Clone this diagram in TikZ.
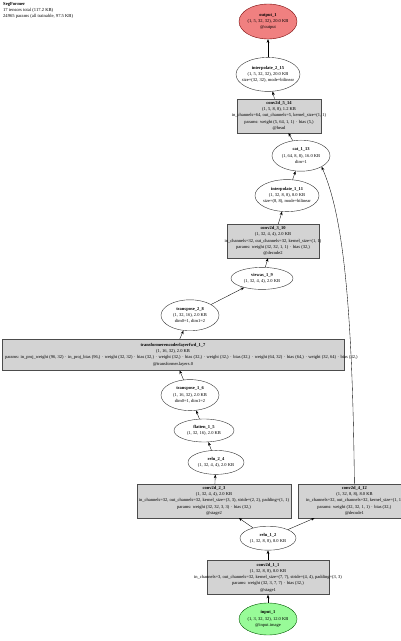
\documentclass[tikz,border=0pt]{standalone}
\usepackage{fontspec}
\setmainfont{Liberation Serif}
\usepackage{xcolor}
\usepackage{tikz}
\usetikzlibrary{arrows.meta,positioning,shapes.geometric}
\definecolor{modfill}{HTML}{D3D3D3}
\definecolor{infill}{HTML}{98FB98}
\definecolor{outfill}{HTML}{F08080}
\newcommand{\gvl}[1]{\makebox[0pt]{#1}}
\tikzset{
  lbl/.style={font={\fontsize{4.5}{6.3}\selectfont}, align=center, inner sep=0pt},
  mod/.style={lbl, rectangle, draw=black!70, fill=modfill, minimum height=34pt},
  fn/.style={lbl, ellipse, draw=black!80, fill=white},
  src/.style={fn, fill=infill, draw=green!35!black},
  sink/.style={fn, fill=outfill, draw=red!45!black},
  flow/.style={-{Stealth[length=3.6pt,width=2.8pt]}, line width=0.35pt},
}

\begin{document}
\begin{tikzpicture}[x=1pt, y=1pt]
  \useasboundingbox (0,0) rectangle (400,641);
  \node[lbl, anchor=north west, align=left, font={\fontsize{4.6}{6}\selectfont}] (title) at (3,639)
    {\textbf{SegFormer}\\17 tensors total (117.2 KB)\\24965 params (all trainable, 97.5 KB)};
  \node[src, minimum width=58pt, minimum height=32pt] (in1) at (268,22)
    {\gvl{\textbf{input\_1}}\\\gvl{(1, 3, 32, 32), 12.0 KB}\\\gvl{@input.image}};
  \node[mod, minimum width=122pt, above=8pt of in1] (c11)
    {\gvl{\textbf{conv2d\_1\_1}}\\\gvl{(1, 32, 8, 8), 8.0 KB}\\
     \gvl{in\_channels=3, out\_channels=32, kernel\_size=(7, 7), stride=(4, 4), padding=(3, 3)}\\
     \gvl{params: weight (32, 3, 7, 7) $\cdot$ bias (32,)}\\\gvl{@stage1}};
  \node[fn, minimum width=56pt, minimum height=24pt, above=10pt of c11] (r12)
    {\gvl{\textbf{relu\_1\_2}}\\\gvl{(1, 32, 8, 8), 8.0 KB}};
  \node[mod, minimum width=154pt, above=8pt of r12, xshift=-54pt] (c23)
    {\gvl{\textbf{conv2d\_2\_3}}\\\gvl{(1, 32, 4, 4), 2.0 KB}\\
     \gvl{in\_channels=32, out\_channels=32, kernel\_size=(3, 3), stride=(2, 2), padding=(1, 1)}\\
     \gvl{params: weight (32, 32, 3, 3) $\cdot$ bias (32,)}\\\gvl{@stage2}};
  \node[mod, minimum width=112pt, right=7pt of c23] (c412)
    {\gvl{\textbf{conv2d\_4\_12}}\\\gvl{(1, 32, 8, 8), 8.0 KB}\\
     \gvl{in\_channels=32, out\_channels=32, kernel\_size=(1, 1)}\\
     \gvl{params: weight (32, 32, 1, 1) $\cdot$ bias (32,)}\\\gvl{@decode1}};
  \node[fn, minimum width=56pt, minimum height=24pt, above=9pt of c23, xshift=2pt] (r24)
    {\gvl{\textbf{relu\_2\_4}}\\\gvl{(1, 32, 4, 4), 2.0 KB}};
  \node[fn, minimum width=60pt, minimum height=23pt, above=8pt of r24, xshift=-12pt] (f15)
    {\gvl{\textbf{flatten\_1\_5}}\\\gvl{(1, 32, 16), 2.0 KB}};
  \node[fn, minimum width=58pt, minimum height=31pt, above=8pt of f15, xshift=-14pt] (t16)
    {\gvl{\textbf{transpose\_1\_6}}\\\gvl{(1, 16, 32), 2.0 KB}\\\gvl{dim0=1, dim1=2}};
  \node[mod, minimum width=342pt, minimum height=31pt, above=9pt of t16, xshift=-17pt] (tf17)
    {\gvl{\textbf{transformerencoderlayerfwd\_1\_7}}\\\gvl{(1, 16, 32), 2.0 KB}\\
     \makebox[0pt][l]{\hspace*{-168pt}params: in\_proj\_weight (96, 32) $\cdot$ in\_proj\_bias (96,) $\cdot$ weight (32, 32) $\cdot$ bias (32,) $\cdot$ weight (32,) $\cdot$ bias (32,) $\cdot$ weight (32,) $\cdot$ bias (32,) $\cdot$ weight (64, 32) $\cdot$ bias (64,) $\cdot$ weight (32, 64) $\cdot$ bias (32,)}\\
     \gvl{@transformer.layers.0}};
  \node[fn, minimum width=58pt, minimum height=31pt, above=8pt of tf17, xshift=17pt] (t28)
    {\gvl{\textbf{transpose\_2\_8}}\\\gvl{(1, 32, 16), 2.0 KB}\\\gvl{dim0=1, dim1=2}};
  \node[fn, minimum width=62pt, minimum height=22pt, above=10pt of t28, xshift=72pt] (v19)
    {\gvl{\textbf{viewas\_1\_9}}\\\gvl{(1, 32, 4, 4), 2.0 KB}};
  \node[mod, minimum width=92pt, above=9pt of v19, xshift=11pt] (c310)
    {\gvl{\textbf{conv2d\_3\_10}}\\\gvl{(1, 32, 4, 4), 2.0 KB}\\
     \gvl{in\_channels=32, out\_channels=32, kernel\_size=(1, 1)}\\
     \gvl{params: weight (32, 32, 1, 1) $\cdot$ bias (32,)}\\\gvl{@decode2}};
  \node[fn, minimum width=64pt, minimum height=32pt, above=12pt of c310, xshift=14pt] (i111)
    {\gvl{\textbf{interpolate\_1\_11}}\\\gvl{(1, 32, 8, 8), 8.0 KB}\\\gvl{size=(8, 8), mode=bilinear}};
  \node[fn, minimum width=58pt, minimum height=31pt, above=8pt of i111, xshift=14pt] (cat113)
    {\gvl{\textbf{cat\_1\_13}}\\\gvl{(1, 64, 8, 8), 16.0 KB}\\\gvl{dim=1}};
  \node[mod, minimum width=84pt, above=7pt of cat113, xshift=-22pt] (c514)
    {\gvl{\textbf{conv2d\_5\_14}}\\\gvl{(1, 5, 8, 8), 1.2 KB}\\
     \gvl{in\_channels=64, out\_channels=5, kernel\_size=(1, 1)}\\
     \gvl{params: weight (5, 64, 1, 1) $\cdot$ bias (5,)}\\\gvl{@head}};
  \node[fn, minimum width=64pt, minimum height=34pt, above=7pt of c514, xshift=-11pt] (i215)
    {\gvl{\textbf{interpolate\_2\_15}}\\\gvl{(1, 5, 32, 32), 20.0 KB}\\\gvl{size=(32, 32), mode=bilinear}};
  \node[sink, minimum width=58pt, minimum height=35pt, above=18pt of i215] (out1)
    {\gvl{\textbf{output\_1}}\\\gvl{(1, 5, 32, 32), 20.0 KB}\\\gvl{@output}};
  \foreach \a/\b in {in1/c11,c11/r12,r12/c23,r12/c412,c23/r24,r24/f15,f15/t16,t16/tf17,tf17/t28,
                     t28/v19,v19/c310,c310/i111,i111/cat113,cat113/c514,c514/i215,i215/out1}
    \draw[flow] (\a) -- (\b);
  \draw[flow] (c412.north) .. controls +(-2,175) and +(22,-50) .. (cat113.south east);
\end{tikzpicture}
\end{document}
